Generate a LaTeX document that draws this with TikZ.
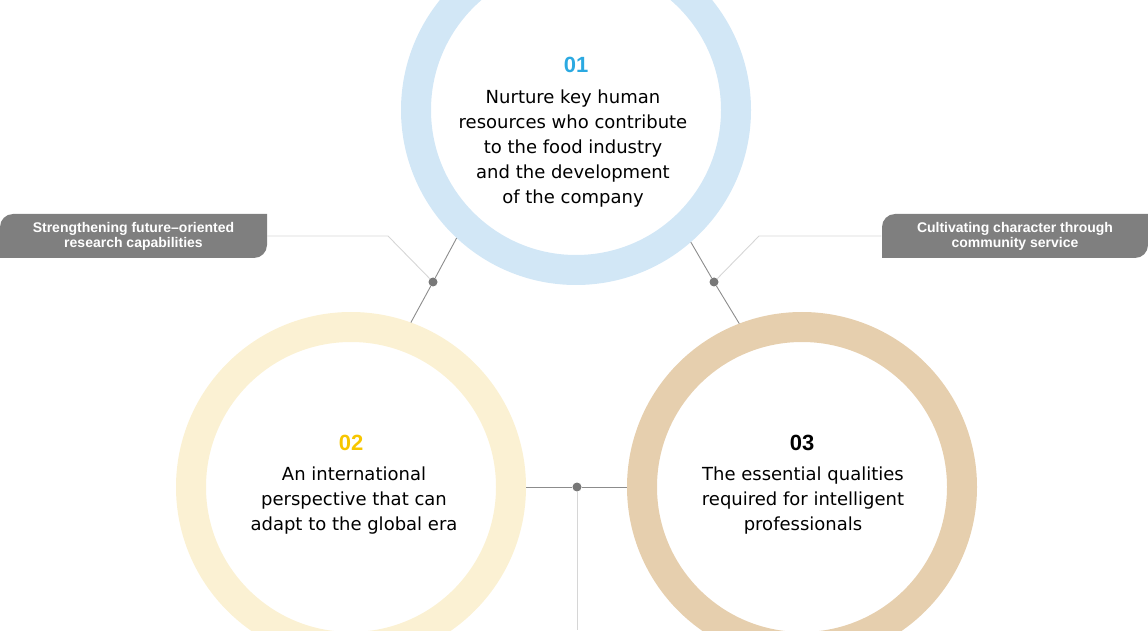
\documentclass[tikz,border=0pt]{standalone}
\usepackage{fontspec}
\setmainfont{DejaVu Sans}
\newfontfamily\labelfont{Liberation Sans}
\usetikzlibrary{positioning, calc}

\definecolor{ringblue}{HTML}{D2E7F6}
\definecolor{ringcream}{HTML}{FBF1D3}
\definecolor{ringtan}{HTML}{E6CFAE}
\definecolor{numblue}{HTML}{2BA9E1}
\definecolor{numgold}{HTML}{F7C600}
\definecolor{labelgray}{HTML}{7F7F7F}
\definecolor{linegray}{HTML}{8C8C8C}
\definecolor{palegray}{HTML}{D6D6D6}
\definecolor{hubgray}{HTML}{787878}

\tikzset{
  ring/.style={circle, draw=#1, line width=30pt, minimum size=320pt, inner sep=0pt, outer sep=15pt},
  num/.style={font=\labelfont\bfseries\fontsize{22}{22}\selectfont, text=#1, anchor=base, inner sep=0pt},
  body/.style={font=\fontsize{18}{25}\selectfont, align=center, anchor=north, inner sep=0pt},
  tagbox/.style={font=\labelfont\bfseries\fontsize{14}{15}\selectfont, text=white, align=center, minimum width=267pt, minimum height=44pt, inner sep=0pt},
  hub/.style={circle, fill=hubgray, minimum size=9pt, inner sep=0pt},
  link/.style={draw=linegray, line width=0.9pt},
  guide/.style={draw=palegray, line width=0.9pt}
}

% grey label with two rounded corners
\newcommand{\leafbox}[4]{%
  \fill[labelgray] (#1,#2) -- (#1,#4-13) arc[start angle=180, end angle=90, radius=13pt]
    -- (#3,#4) -- (#3,#2+13) arc[start angle=0, end angle=-90, radius=13pt] -- cycle;}

\begin{document}
\begin{tikzpicture}[x=1pt, y=1pt]
  \useasboundingbox (0,0) rectangle (1148,630);
  \clip (0,0) rectangle (1148,630);

  % Anneaux
  \node[ring=ringblue] (ring1) at (576,520) {};
  \node[ring=ringcream] (ring2) at (351,143) {};
  \node[ring=ringtan] (ring3) at (802,143) {};

  % Textes
  \node[num=numblue] (num1) at ($(ring1.center)+(0,37)$) {01};
  \node[body] (txt1) at ($(ring1.center)+(-3,24.5)$) {\strut Nurture key human\\resources who contribute\\to the food industry\\and the development\\of the company};
  \node[num=numgold] (num2) at ($(ring2.center)+(0,37)$) {02};
  \node[body] (txt2) at ($(ring2.center)+(3,24.5)$) {\strut An international\\perspective that can\\adapt to the global era};
  \node[num=black] (num3) at ($(ring3.center)+(0,37)$) {03};
  \node[body] (txt3) at ($(ring3.center)+(1,24.5)$) {\strut The essential qualities\\required for intelligent\\professionals};

  % Etiquettes
  \leafbox{0}{372}{267}{416}
  \leafbox{882}{372}{1148}{416}
  \node[tagbox] (tagL) at (133.5,394) {Strengthening future–oriented\\research capabilities};
  \node[tagbox] (tagR) at (1015,394) {Cultivating character through\\community service};

  % Points et liaisons
  \node[hub] (hubL) at (433,348) {};
  \node[hub] (hubR) at (714,348) {};
  \node[hub] (hubB) at (577,143) {};
  \coordinate (bendL) at (388,394);
  \coordinate (bendR) at (759,394);
  \coordinate (foot) at (577,0);

  \draw[guide] (hubL) -- (bendL) -- (tagL.east);
  \draw[guide] (hubR) -- (bendR) -- (tagR.west);
  \draw[guide] (hubB) -- (foot);
  \draw[link] (ring1.227.5) -- (hubL) -- (ring2.70);
  \draw[link] (ring1.311) -- (hubR) -- (ring3.111);
  \draw[link] (ring2.east) -- (hubB) -- (ring3.west);
\end{tikzpicture}
\end{document}
